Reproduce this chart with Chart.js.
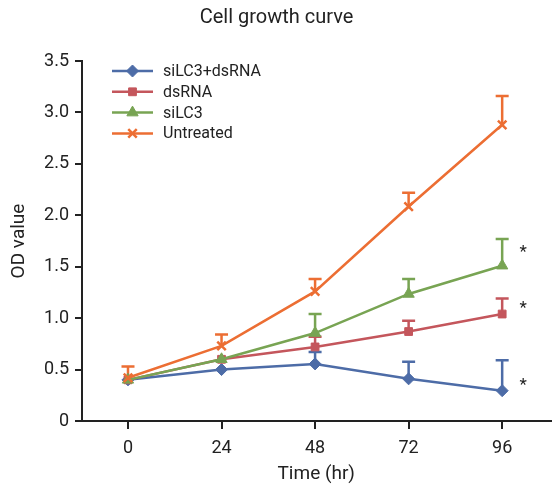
<!DOCTYPE html>
<html>
<head>
<meta charset="utf-8">
<script src="https://cdn.jsdelivr.net/npm/chart.js@4/dist/chart.umd.min.js"></script>
<style>
html,body{margin:0;padding:0;background:#fff;}
#wrap{width:559px;height:492px;position:relative;}
</style>
</head>
<body>
<div id="wrap"><canvas id="c" width="559" height="492"></canvas></div>
<script>
// ---- data ----
const timePoints = [0, 24, 48, 72, 96];
const seriesNames = ['siLC3+dsRNA', 'dsRNA', 'siLC3', 'Untreated'];
const siLC3dsRNA = [0.40, 0.50, 0.555, 0.41, 0.295];
const dsRNA      = [0.40, 0.60, 0.72, 0.87, 1.04];
const siLC3      = [0.40, 0.60, 0.855, 1.235, 1.51];
const untreated  = [0.42, 0.73, 1.26, 2.085, 2.88];
// upper error bar tops
const siLC3dsRNAErrTop = [0.40, 0.50, 0.67, 0.575, 0.59];
const dsRNAErrTop      = [0.40, 0.60, 0.82, 0.975, 1.19];
const siLC3ErrTop      = [0.40, 0.60, 1.04, 1.38, 1.77];
const untreatedErrTop  = [0.53, 0.84, 1.38, 2.22, 3.16];
const yTicks = [0, 0.5, 1.0, 1.5, 2.0, 2.5, 3.0, 3.5];
const significance = [ {x: 96, y: 1.67, text: '*'}, {x: 96, y: 1.13, text: '*'}, {x: 96, y: 0.38, text: '*'} ];

const FONT = "Roboto, 'Liberation Sans', sans-serif";
const colors = ['#4d6ca7', '#c4565c', '#78a453', '#ec6e33'];
const styles = ['rectRot', 'rect', 'triangle', 'crossRot'];
const radii = [6, 5.5, 6.5, 6];
const values = [siLC3dsRNA, dsRNA, siLC3, untreated];
const errTops = [siLC3dsRNAErrTop, dsRNAErrTop, siLC3ErrTop, untreatedErrTop];
const orders = [4, 3, 2, 1];

const datasets = seriesNames.map((name, i) => ({
  label: name,
  data: timePoints.map((t, j) => ({x: t, y: values[i][j]})),
  errTop: errTops[i],
  borderColor: colors[i],
  backgroundColor: colors[i],
  pointBackgroundColor: colors[i],
  pointBorderColor: colors[i],
  pointStyle: styles[i],
  pointRadius: radii[i],
  pointBorderWidth: styles[i] === 'crossRot' ? 2.5 : 1,
  borderWidth: 2.5,
  tension: 0,
  order: orders[i]
}));

const errorBars = {
  id: 'errorBars',
  beforeDatasetsDraw(chart) {
    const ctx = chart.ctx, xs = chart.scales.x, ys = chart.scales.y;
    chart.data.datasets.slice().sort((a,b)=>b.order-a.order).forEach(ds => {
      ctx.save();
      ctx.strokeStyle = ds.borderColor;
      ctx.lineWidth = 2.5;
      ds.data.forEach((p, j) => {
        const top = ds.errTop[j];
        if (top <= p.y) return;
        const px = xs.getPixelForValue(p.x);
        const py = ys.getPixelForValue(p.y);
        const pt = ys.getPixelForValue(top);
        ctx.beginPath();
        ctx.moveTo(px, py); ctx.lineTo(px, pt);
        ctx.moveTo(px - 6.5, pt); ctx.lineTo(px + 6.5, pt);
        ctx.stroke();
      });
      ctx.restore();
    });
  }
};

const extras = {
  id: 'extras',
  afterDatasetsDraw(chart) {
    const ctx = chart.ctx, xs = chart.scales.x, ys = chart.scales.y, ca = chart.chartArea;
    // significance asterisks
    ctx.save();
    ctx.fillStyle = '#222';
    ctx.font = '17px ' + FONT;
    ctx.textAlign = 'center';
    ctx.textBaseline = 'middle';
    significance.forEach(s => {
      ctx.fillText(s.text, xs.getPixelForValue(s.x) + 21, ys.getPixelForValue(s.y) + 4);
    });
    ctx.restore();
    // legend
    ctx.save();
    const lx = ca.left + 30, ly = ca.top + 10, rowH = 20.8;
    ctx.font = '16px ' + FONT;
    ctx.textBaseline = 'middle';
    ctx.textAlign = 'left';
    seriesNames.forEach((name, i) => {
      const y = ly + i * rowH;
      ctx.strokeStyle = colors[i];
      ctx.lineWidth = 2.5;
      ctx.beginPath(); ctx.moveTo(lx, y); ctx.lineTo(lx + 41, y); ctx.stroke();
      ctx.fillStyle = colors[i];
      ctx.strokeStyle = colors[i];
      ctx.lineWidth = styles[i] === 'crossRot' ? 2.5 : 1;
      Chart.helpers.drawPoint(ctx, {pointStyle: styles[i], radius: radii[i], rotation: 0, borderWidth: ctx.lineWidth}, lx + 20.5, y);
      ctx.fillStyle = '#222';
      ctx.fillText(name, lx + 51, y + 1);
    });
    ctx.restore();
  }
};

new Chart(document.getElementById('c'), {
  type: 'line',
  data: { datasets },
  options: {
    responsive: false,
    animation: false,
    layout: { padding: { left: 0, right: 6, top: 0, bottom: 0 } },
    plugins: {
      legend: { display: false },
      tooltip: { enabled: false },
      title: {
        display: true,
        text: 'Cell growth curve',
        color: '#222',
        font: { family: FONT, size: 20, weight: 'normal' },
        padding: { top: 6, bottom: 31 }
      }
    },
    scales: {
      x: {
        type: 'linear',
        min: -11.8,
        max: 108.4,
        afterBuildTicks(scale) { scale.ticks = timePoints.map(v => ({value: v})); },
        afterFit(scale) { scale.height = 71; },
        border: { display: true, color: '#222', width: 2 },
        grid: { display: true, drawOnChartArea: false, drawTicks: true, tickLength: 8, color: '#222', lineWidth: 2 },
        ticks: { color: '#222', font: { family: FONT, size: 18 }, padding: 9, maxRotation: 0 },
        title: { display: true, text: 'Time (hr)', color: '#222', font: { family: FONT, size: 19 }, padding: { top: 0, bottom: 6 } }
      },
      y: {
        min: 0,
        max: 3.5,
        afterBuildTicks(scale) { scale.ticks = yTicks.map(v => ({value: v})); },
        afterFit(scale) { scale.width = 82; },
        border: { display: true, color: '#222', width: 2 },
        grid: { display: true, drawOnChartArea: false, drawTicks: true, tickLength: 7, color: '#222', lineWidth: 2 },
        ticks: { color: '#222', font: { family: FONT, size: 18 }, padding: 6,
          callback: v => v === 0 ? '0' : v.toFixed(1) },
        title: { display: true, text: 'OD value', color: '#222', font: { family: FONT, size: 19 }, padding: { top: 8, bottom: 0 } }
      }
    }
  },
  plugins: [errorBars, extras]
});
</script>
</body>
</html>
